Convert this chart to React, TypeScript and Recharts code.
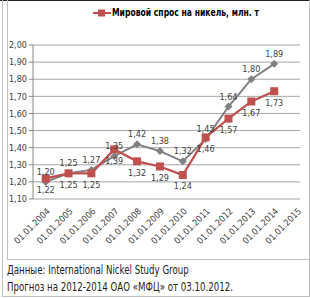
import { LineChart, Line, XAxis, YAxis, CartesianGrid, Legend, LabelList } from "recharts";

const categories = [
  "01.01.2004", "01.01.2005", "01.01.2006", "01.01.2007", "01.01.2008", "01.01.2009",
  "01.01.2010", "01.01.2011", "01.01.2012", "01.01.2013", "01.01.2014", "01.01.2015",
];
const demand = [1.22, 1.25, 1.25, 1.39, 1.32, 1.29, 1.24, 1.46, 1.57, 1.67, 1.73];
const other = [1.2, 1.25, 1.27, 1.35, 1.42, 1.38, 1.32, 1.45, 1.64, 1.8, 1.89];
const yTicks = [1.1, 1.2, 1.3, 1.4, 1.5, 1.6, 1.7, 1.8, 1.9, 2.0];

const data = categories.map((c, i) => ({
  x: i,
  name: c,
  demand: i < demand.length ? demand[i] : null,
  other: i < other.length ? other[i] : null,
}));

const RED = "#C0504D";
const GRAY = "#808080";
const FONT = "'Liberation Sans Narrow', 'Arial Narrow', 'DejaVu Sans Condensed', sans-serif";

const fmt = (v: any) => (typeof v === "number" ? v.toFixed(2).replace(".", ",") : "");

const Square = (props: any) => {
  const { cx, cy } = props;
  if (cx == null || cy == null) return null;
  return <rect x={cx - 4} y={cy - 4} width={8} height={8} fill={RED} />;
};

const Diamond = (props: any) => {
  const { cx, cy } = props;
  if (cx == null || cy == null) return null;
  return <path d={`M${cx},${cy - 4}L${cx + 4},${cy}L${cx},${cy + 4}L${cx - 4},${cy}Z`} fill={GRAY} />;
};

const XTick = (props: any) => {
  const { x, y, payload } = props;
  return (
    <g transform={`translate(${x + 2},${y + 2})`}>
      <text textAnchor="end" transform="rotate(-45)" fontSize={9} fontFamily={FONT} fill="#404040" dy={4}>
        {categories[payload.value]}
      </text>
    </g>
  );
};

const LegendContent = () => (
  <div style={{ position: "relative", height: 14, fontFamily: FONT }}>
    <svg width={18} height={8} style={{ position: "absolute", left: 93, top: 3 }}>
      <line x1={0} y1={4} x2={18} y2={4} stroke={RED} strokeWidth={2} />
      <rect x={5} y={0.5} width={7} height={7} fill={RED} />
    </svg>
    <span
      style={{
        position: "absolute", left: 112, top: 0, whiteSpace: "nowrap",
        fontSize: 10, fontWeight: "bold", color: "#000", lineHeight: "14px",
        transform: "scaleX(0.85)", transformOrigin: "left center",
      }}
    >
      Мировой спрос на никель, млн. т
    </span>
  </div>
);

export default function App() {
  return (
    <div style={{ position: "absolute", left: 0, top: 0, width: 310, height: 298, background: "#fff" }}>
      <div style={{ position: "absolute", left: 0, top: 0, width: 310, height: 1, background: "#222" }} />
      <div
        style={{
          position: "absolute", left: 2, top: 0, width: 306, height: 296,
          border: "1px solid #BFBFBF", borderTop: "none",
        }}
      />
      <div
        style={{
          position: "absolute", left: 7, top: 0, width: 301, height: 259,
          border: "1px solid #BFBFBF", borderTop: "none",
        }}
      />
      <div style={{ position: "absolute", left: 0, top: 0 }}>
        <LineChart width={310} height={260} data={data} margin={{ top: 31, right: 10, bottom: 1, left: 0 }}>
          <CartesianGrid vertical={false} stroke="#A6A6A6" />
          <XAxis
            xAxisId="marks"
            dataKey="x"
            type="number"
            domain={[-0.556, 11.13]}
            ticks={[-0.5, 0.5, 1.5, 2.5, 3.5, 4.5, 5.5, 6.5, 7.5, 8.5, 9.5, 10.5]}
            tickFormatter={() => ""}
            height={0}
            stroke="#868686"
            tickSize={4}
            allowDataOverflow
          />
          <XAxis
            dataKey="x"
            type="number"
            domain={[-0.556, 11.13]}
            ticks={categories.map((_, i) => i)}
            tick={<XTick />}
            tickLine={false}
            axisLine={false}
            height={60}
            interval={0}
            allowDataOverflow
          />
          <YAxis
            domain={[1.1, 2.0]}
            ticks={yTicks}
            tickFormatter={fmt}
            width={33}
            stroke="#868686"
            tickSize={4}
            tickMargin={2}
            tick={{ fontSize: 9, fontFamily: FONT, fill: "#404040" }}
            interval={0}
          />
          <Legend verticalAlign="top" content={<LegendContent />} wrapperStyle={{ top: 6, left: 0, width: 310 }} />
          <Line
            dataKey="other"
            name="Мировое производство никеля"
            stroke={GRAY}
            strokeWidth={2}
            dot={<Diamond />}
            legendType="none"
            isAnimationActive={false}
          >
            <LabelList dataKey="other" position="top" offset={7} formatter={fmt} style={{ fontSize: 9, fontFamily: FONT, fill: "#404040" }} />
          </Line>
          <Line
            dataKey="demand"
            name="Мировой спрос на никель, млн. т"
            stroke={RED}
            strokeWidth={2.25}
            dot={<Square />}
            isAnimationActive={false}
          >
            <LabelList dataKey="demand" position="bottom" offset={8} formatter={fmt} style={{ fontSize: 9, fontFamily: FONT, fill: "#404040" }} />
          </Line>
        </LineChart>
      </div>
      <div
        style={{
          position: "absolute", left: 7, top: 262, fontFamily: FONT, fontSize: 12, color: "#222",
          lineHeight: "17px", whiteSpace: "nowrap", transform: "scaleX(0.8)", transformOrigin: "left top",
        }}
      >
        <div>Данные: International Nickel Study Group</div>
        <div>Прогноз на 2012-2014 ОАО «МФЦ» от 03.10.2012.</div>
      </div>
    </div>
  );
}
